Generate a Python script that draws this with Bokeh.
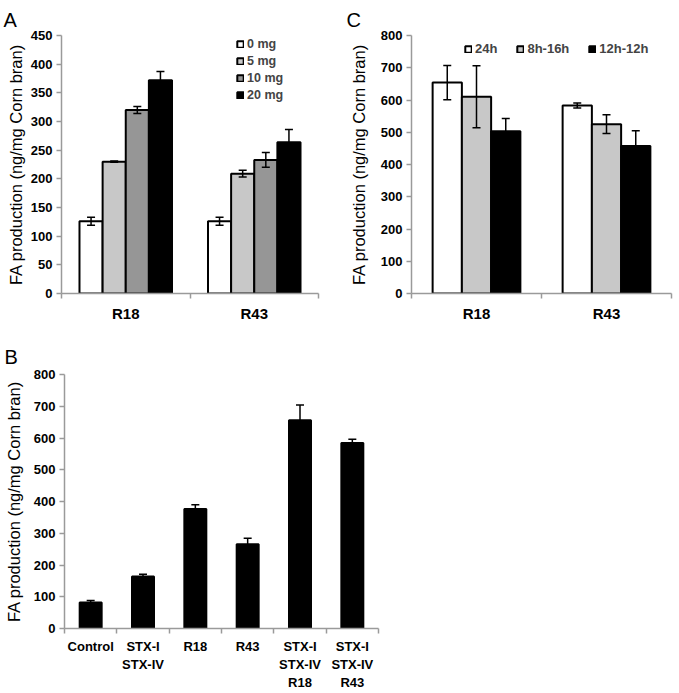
import numpy as np
from bokeh.plotting import figure
from bokeh.models import (ColumnDataSource, Range1d, FixedTicker, Whisker, TeeHead,
                          Legend, LegendItem)
from bokeh.layouts import row, column
from bokeh.embed import file_html
from bokeh.resources import INLINE

FONT = "Liberation Sans"
AXIS_GRAY = "#9a9a9a"
YLABEL = "FA production (ng/mg Corn bran)"

# ---------------- Panel A data ----------------
a_groups = ["R18", "R43"]
a_doses = ["0 mg", "5 mg", "10 mg", "20 mg"]
a_mean_0 = [126, 126]
a_mean_5 = [230, 209]
a_mean_10 = [320, 233]
a_mean_20 = [372, 264]
a_err_0 = [7, 7]
a_err_5 = [1, 6]
a_err_10 = [6, 13]
a_err_20 = [15, 22]
a_colors = ["white", "#c8c8c8", "#969696", "black"]

# ---------------- Panel C data ----------------
c_groups = ["R18", "R43"]
c_times = ["24h", "8h-16h", "12h-12h"]
c_mean_24 = [654, 583]
c_mean_8_16 = [610, 525]
c_mean_12_12 = [503, 457]
c_err_24 = [53, 8]
c_err_8_16 = [96, 29]
c_err_12_12 = [40, 48]
c_colors = ["white", "#c8c8c8", "black"]

# ---------------- Panel B data ----------------
b_labels = ["Control", "STX-I\nSTX-IV", "R18", "R43",
            "STX-I\nSTX-IV\nR18", "STX-I\nSTX-IV\nR43"]
b_mean = [82, 164, 376, 265, 656, 584]
b_err = [6, 7, 14, 19, 48, 12]


def style(p, labels, ymax, ystep, xsize, ysize, label_standoff, xstandoff):
    n = len(labels)
    p.xgrid.visible = False
    p.ygrid.visible = False
    p.outline_line_color = None
    p.background_fill_color = "white"
    p.border_fill_color = "white"
    for ax in (p.xaxis[0], p.yaxis[0]):
        ax.axis_line_color = AXIS_GRAY
        ax.axis_line_width = 1.5
        ax.major_label_text_font = FONT
        ax.major_label_text_font_style = "bold"
        ax.major_label_text_color = "black"
    xa = p.xaxis[0]
    xa.ticker = FixedTicker(ticks=[i + 0.5 for i in range(n)],
                            minor_ticks=list(range(n + 1)))
    xa.major_label_overrides = {i + 0.5: lab for i, lab in enumerate(labels)}
    xa.major_tick_line_color = None
    xa.major_tick_out = 5
    xa.major_tick_in = 0
    xa.minor_tick_line_color = AXIS_GRAY
    xa.minor_tick_line_width = 1.5
    xa.minor_tick_out = 5
    xa.minor_tick_in = 0
    xa.major_label_text_font_size = xsize
    xa.major_label_standoff = xstandoff
    ya = p.yaxis[0]
    ya.ticker = FixedTicker(ticks=list(range(0, ymax + 1, ystep)))
    ya.minor_tick_line_color = None
    ya.major_tick_line_color = AXIS_GRAY
    ya.major_tick_line_width = 1.5
    ya.major_tick_out = 5
    ya.major_tick_in = 0
    ya.major_label_text_font_size = ysize
    ya.major_label_standoff = 4
    ya.axis_label = YLABEL
    ya.axis_label_text_font = FONT
    ya.axis_label_text_font_style = "normal"
    ya.axis_label_text_font_size = "16.5px"
    ya.axis_label_text_color = "black"
    ya.axis_label_standoff = label_standoff


def panel_title(p, text, offset, standoff):
    p.title.text = text
    p.title.text_font = FONT
    p.title.text_font_style = "normal"
    p.title.text_font_size = "20px"
    p.title.text_color = "black"
    p.title.text_line_height = 0.6
    p.title.align = "left"
    p.title.vertical_align = "top"
    p.title.offset = offset
    p.title.standoff = standoff


def grouped(p, means, errs, colors, names, width, step):
    k = len(means)
    items = []
    for j in range(k):
        xs = np.arange(len(means[j])) + 0.5 + (j - (k - 1) / 2) * step
        m = np.array(means[j], dtype=float)
        e = np.array(errs[j], dtype=float)
        src = ColumnDataSource(dict(x=xs, top=m, upper=m + e, lower=m - e))
        r = p.vbar(x="x", top="top", width=width, source=src,
                   fill_color=colors[j], line_color="black", line_width=2)
        w = Whisker(source=src, base="x", upper="upper", lower="lower",
                    line_color="black", line_width=1.5, level="overlay",
                    upper_head=TeeHead(size=8, line_width=1.5, line_color="black"),
                    lower_head=TeeHead(size=8, line_width=1.5, line_color="black"))
        p.add_layout(w)
        items.append(LegendItem(label=names[j], renderers=[r]))
    return items


# ---------------- Figure A ----------------
pA = figure(frame_width=257, frame_height=258, x_range=Range1d(0, 2), y_range=Range1d(0, 450),
            output_backend="svg", toolbar_location=None,
            min_border_left=61, min_border_right=20, min_border_top=35,
            min_border_bottom=33)
style(pA, a_groups, 450, 50, "15px", "13px", 3, 6)
panel_title(pA, "A", -58, 6)
itemsA = grouped(pA, [a_mean_0, a_mean_5, a_mean_10, a_mean_20],
                 [a_err_0, a_err_5, a_err_10, a_err_20], a_colors, a_doses, 0.18, 0.18)
legA = Legend(items=itemsA, location=(175, 190), orientation="vertical",
              glyph_width=8, glyph_height=8, label_height=17, spacing=0,
              padding=0, margin=0, border_line_color=None, background_fill_alpha=0,
              label_text_font=FONT, label_text_font_size="12.5px",
              label_text_font_style="bold", label_standoff=3)
pA.add_layout(legA)

# ---------------- Figure C ----------------
pC = figure(frame_width=260, frame_height=258, x_range=Range1d(0, 2), y_range=Range1d(0, 800),
            output_backend="svg", toolbar_location=None,
            min_border_left=73, min_border_right=4, min_border_top=32,
            min_border_bottom=36)
style(pC, c_groups, 800, 100, "15px", "13px", 10, 6)
panel_title(pC, "C", -65, 5)
itemsC = grouped(pC, [c_mean_24, c_mean_8_16, c_mean_12_12],
                 [c_err_24, c_err_8_16, c_err_12_12], c_colors, c_times, 0.225, 0.225)
legC = Legend(items=itemsC, location=(53, 236), orientation="horizontal",
              glyph_width=8, glyph_height=8, label_height=17, spacing=19,
              padding=0, margin=0, border_line_color=None, background_fill_alpha=0,
              label_text_font=FONT, label_text_font_size="13px",
              label_text_font_style="bold", label_standoff=3)
pC.add_layout(legC)

# ---------------- Figure B ----------------
pB = figure(frame_width=314, frame_height=254, x_range=Range1d(0, 6), y_range=Range1d(0, 800),
            output_backend="svg", toolbar_location=None,
            min_border_left=64, min_border_right=20, min_border_top=48,
            min_border_bottom=61)
style(pB, b_labels, 800, 100, "13px", "13px", 8, 5)
panel_title(pB, "B", -60, 10)
grouped(pB, [b_mean], [b_err], ["black"], ["B"], 0.42, 0.0)

layout = column(row(pA, pC), pB)
open("out.html", "w").write(file_html(layout, INLINE))
